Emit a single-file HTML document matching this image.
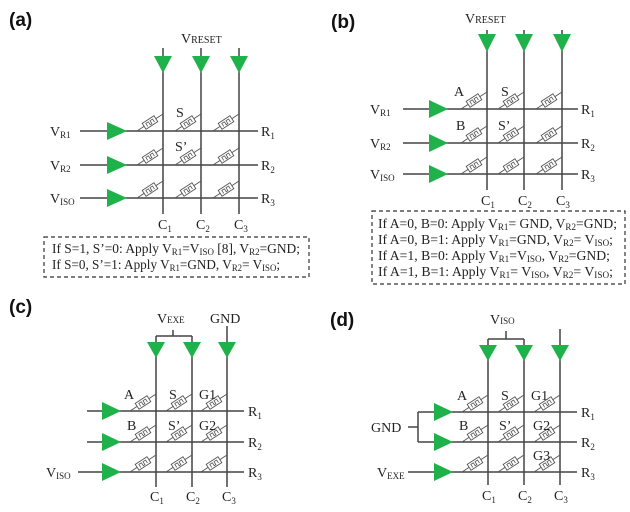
<!DOCTYPE html>
<html><head><meta charset="utf-8"><style>
html,body{margin:0;padding:0;background:#fff;}
svg{display:block;}
text{font-family:"Liberation Serif",serif;font-size:14px;fill:#222;}
.bx{font-size:13.5px;}
.lb{font-family:"Liberation Sans",sans-serif;font-weight:bold;font-size:19px;fill:#111;}
.w{stroke:#444;stroke-width:1.5;fill:none;}
.g{fill:#1fb24a;}
</style></head><body>
<svg width="630" height="512" viewBox="0 0 630 512" xmlns="http://www.w3.org/2000/svg">
<defs>
<g id="r">
<line x1="-26" y1="0" x2="0" y2="-17" stroke="#555" stroke-width="0.9"/>
<g transform="translate(-13,-8.5) rotate(-33)">
<rect x="-7" y="-3.5" width="14" height="7" fill="#fff" stroke="#555" stroke-width="0.9"/>
<path d="M-4,2 V-1.5 H-1 V2 H1 V-1.5 H4 V2" fill="none" stroke="#555" stroke-width="0.8"/>
</g>
</g>
</defs>

<!-- ===== (a) ===== -->
<text class="lb" x="9" y="26">(a)</text>
<text x="181" y="43">V<tspan font-size="10">RESET</tspan></text>
<g class="w">
<line x1="163" y1="48" x2="163" y2="214"/><line x1="201" y1="48" x2="201" y2="214"/><line x1="239" y1="48" x2="239" y2="214"/>
<line x1="80" y1="131" x2="258" y2="131"/><line x1="80" y1="165" x2="258" y2="165"/><line x1="80" y1="198" x2="258" y2="198"/>
</g>
<g class="g">
<polygon points="154,56 172,56 163,73"/><polygon points="192,56 210,56 201,73"/><polygon points="230,56 248,56 239,73"/>
<polygon points="107,122 107,140 127,131"/><polygon points="107,156 107,174 127,165"/><polygon points="107,189 107,207 127,198"/>
</g>
<use href="#r" x="163" y="131"/><use href="#r" x="201" y="131"/><use href="#r" x="239" y="131"/>
<use href="#r" x="163" y="165"/><use href="#r" x="201" y="165"/><use href="#r" x="239" y="165"/>
<use href="#r" x="163" y="198"/><use href="#r" x="201" y="198"/><use href="#r" x="239" y="198"/>
<text x="176" y="117">S</text><text x="175" y="151">S’</text>
<text x="50" y="136">V<tspan font-size="9" dy="2">R1</tspan></text>
<text x="50" y="170">V<tspan font-size="9" dy="2">R2</tspan></text>
<text x="50" y="203">V<tspan font-size="9" dy="2">ISO</tspan></text>
<text x="261" y="136">R<tspan font-size="9" dy="3">1</tspan></text>
<text x="261" y="170">R<tspan font-size="9" dy="3">2</tspan></text>
<text x="261" y="203">R<tspan font-size="9" dy="3">3</tspan></text>
<text x="158" y="229">C<tspan font-size="9" dy="3">1</tspan></text>
<text x="196" y="229">C<tspan font-size="9" dy="3">2</tspan></text>
<text x="234" y="229">C<tspan font-size="9" dy="3">3</tspan></text>
<rect x="44" y="237" width="265" height="40" fill="none" stroke="#333" stroke-width="1.2" stroke-dasharray="4,3"/>
<text class="bx" x="52" y="253" textLength="248" lengthAdjust="spacingAndGlyphs">If S=1, S’=0: Apply V<tspan font-size="9" dy="2">R1</tspan><tspan dy="-2">=V</tspan><tspan font-size="9" dy="2">ISO</tspan><tspan dy="-2"> [8], V</tspan><tspan font-size="9" dy="2">R2</tspan><tspan dy="-2">=GND;</tspan></text>
<text class="bx" x="52" y="269" textLength="228" lengthAdjust="spacingAndGlyphs">If S=0, S’=1: Apply V<tspan font-size="9" dy="2">R1</tspan><tspan dy="-2">=GND, V</tspan><tspan font-size="9" dy="2">R2</tspan><tspan dy="-2">= V</tspan><tspan font-size="9" dy="2">ISO</tspan><tspan dy="-2">;</tspan></text>

<!-- ===== (b) ===== -->
<text class="lb" x="331" y="28">(b)</text>
<text x="465" y="23">V<tspan font-size="10">RESET</tspan></text>
<g class="w">
<line x1="487" y1="30" x2="487" y2="190"/><line x1="524" y1="30" x2="524" y2="190"/><line x1="562" y1="30" x2="562" y2="190"/>
<line x1="403" y1="109" x2="578" y2="109"/><line x1="403" y1="143" x2="578" y2="143"/><line x1="403" y1="174" x2="578" y2="174"/>
</g>
<g class="g">
<polygon points="478,34 496,34 487,52"/><polygon points="515,34 533,34 524,52"/><polygon points="553,34 571,34 562,52"/>
<polygon points="429,100 429,118 448,109"/><polygon points="429,134 429,152 448,143"/><polygon points="429,165 429,183 448,174"/>
</g>
<use href="#r" x="487" y="109"/><use href="#r" x="524" y="109"/><use href="#r" x="562" y="109"/>
<use href="#r" x="487" y="143"/><use href="#r" x="524" y="143"/><use href="#r" x="562" y="143"/>
<use href="#r" x="487" y="174"/><use href="#r" x="524" y="174"/><use href="#r" x="562" y="174"/>
<text x="454" y="96">A</text><text x="501" y="96">S</text>
<text x="456" y="130">B</text><text x="498" y="130">S’</text>
<text x="370" y="114">V<tspan font-size="9" dy="2">R1</tspan></text>
<text x="370" y="148">V<tspan font-size="9" dy="2">R2</tspan></text>
<text x="370" y="179">V<tspan font-size="9" dy="2">ISO</tspan></text>
<text x="581" y="114">R<tspan font-size="9" dy="3">1</tspan></text>
<text x="581" y="148">R<tspan font-size="9" dy="3">2</tspan></text>
<text x="581" y="179">R<tspan font-size="9" dy="3">3</tspan></text>
<text x="481" y="205">C<tspan font-size="9" dy="3">1</tspan></text>
<text x="518" y="205">C<tspan font-size="9" dy="3">2</tspan></text>
<text x="556" y="205">C<tspan font-size="9" dy="3">3</tspan></text>
<rect x="372" y="211" width="253" height="73" fill="none" stroke="#333" stroke-width="1.2" stroke-dasharray="4,3"/>
<text class="bx" x="378" y="228" textLength="239" lengthAdjust="spacingAndGlyphs">If A=0, B=0: Apply V<tspan font-size="9" dy="2">R1</tspan><tspan dy="-2">= GND, V</tspan><tspan font-size="9" dy="2">R2</tspan><tspan dy="-2">=GND;</tspan></text>
<text class="bx" x="378" y="244" textLength="235" lengthAdjust="spacingAndGlyphs">If A=0, B=1: Apply V<tspan font-size="9" dy="2">R1</tspan><tspan dy="-2">=GND, V</tspan><tspan font-size="9" dy="2">R2</tspan><tspan dy="-2">= V</tspan><tspan font-size="9" dy="2">ISO</tspan><tspan dy="-2">;</tspan></text>
<text class="bx" x="378" y="260" textLength="232" lengthAdjust="spacingAndGlyphs">If A=1, B=0: Apply V<tspan font-size="9" dy="2">R1</tspan><tspan dy="-2">=V</tspan><tspan font-size="9" dy="2">ISO</tspan><tspan dy="-2">, V</tspan><tspan font-size="9" dy="2">R2</tspan><tspan dy="-2">=GND;</tspan></text>
<text class="bx" x="378" y="276" textLength="235" lengthAdjust="spacingAndGlyphs">If A=1, B=1: Apply V<tspan font-size="9" dy="2">R1</tspan><tspan dy="-2">= V</tspan><tspan font-size="9" dy="2">ISO</tspan><tspan dy="-2">, V</tspan><tspan font-size="9" dy="2">R2</tspan><tspan dy="-2">= V</tspan><tspan font-size="9" dy="2">ISO</tspan><tspan dy="-2">;</tspan></text>

<!-- ===== (c) ===== -->
<text class="lb" x="9" y="313">(c)</text>
<text x="157" y="323">V<tspan font-size="9">EXE</tspan></text>
<text x="210" y="323">GND</text>
<g class="w">
<line x1="173" y1="330" x2="173" y2="336"/><line x1="156" y1="336" x2="192" y2="336"/>
<line x1="156" y1="336" x2="156" y2="487"/><line x1="192" y1="336" x2="192" y2="487"/><line x1="227" y1="326" x2="227" y2="487"/>
<line x1="87" y1="411" x2="244" y2="411"/><line x1="87" y1="442" x2="244" y2="442"/><line x1="78" y1="472" x2="244" y2="472"/>
</g>
<g class="g">
<polygon points="147,342 165,342 156,358"/><polygon points="183,342 201,342 192,358"/><polygon points="218,342 236,342 227,358"/>
<polygon points="102,402 102,420 121,411"/><polygon points="102,433 102,451 121,442"/><polygon points="102,463 102,481 121,472"/>
</g>
<use href="#r" x="156" y="411"/><use href="#r" x="192" y="411"/><use href="#r" x="227" y="411"/>
<use href="#r" x="156" y="442"/><use href="#r" x="192" y="442"/><use href="#r" x="227" y="442"/>
<use href="#r" x="156" y="472"/><use href="#r" x="192" y="472"/><use href="#r" x="227" y="472"/>
<text x="124" y="399">A</text><text x="169" y="399">S</text><text x="199" y="399">G1</text>
<text x="127" y="430">B</text><text x="168" y="430">S’</text><text x="199" y="430">G2</text>
<text x="46" y="477">V<tspan font-size="9" dy="2">ISO</tspan></text>
<text x="248" y="416">R<tspan font-size="9" dy="3">1</tspan></text>
<text x="248" y="447">R<tspan font-size="9" dy="3">2</tspan></text>
<text x="248" y="477">R<tspan font-size="9" dy="3">3</tspan></text>
<text x="150" y="501">C<tspan font-size="9" dy="3">1</tspan></text>
<text x="186" y="501">C<tspan font-size="9" dy="3">2</tspan></text>
<text x="222" y="501">C<tspan font-size="9" dy="3">3</tspan></text>

<!-- ===== (d) ===== -->
<text class="lb" x="330" y="326">(d)</text>
<text x="490" y="324">V<tspan font-size="9">ISO</tspan></text>
<g class="w">
<line x1="506" y1="331" x2="506" y2="339"/><line x1="488" y1="339" x2="524" y2="339"/>
<line x1="488" y1="339" x2="488" y2="485"/><line x1="524" y1="339" x2="524" y2="485"/><line x1="560" y1="329" x2="560" y2="485"/>
<line x1="418" y1="412" x2="577" y2="412"/><line x1="418" y1="442" x2="577" y2="442"/><line x1="408" y1="472" x2="577" y2="472"/>
<line x1="418" y1="412" x2="418" y2="442"/><line x1="408" y1="427" x2="418" y2="427"/>
</g>
<g class="g">
<polygon points="479,345 497,345 488,361"/><polygon points="515,345 533,345 524,361"/><polygon points="551,345 569,345 560,361"/>
<polygon points="434,403 434,421 453,412"/><polygon points="434,433 434,451 453,442"/><polygon points="434,463 434,481 453,472"/>
</g>
<use href="#r" x="488" y="412"/><use href="#r" x="524" y="412"/><use href="#r" x="560" y="412"/>
<use href="#r" x="488" y="442"/><use href="#r" x="524" y="442"/><use href="#r" x="560" y="442"/>
<use href="#r" x="488" y="472"/><use href="#r" x="524" y="472"/><use href="#r" x="560" y="472"/>
<text x="457" y="400">A</text><text x="501" y="400">S</text><text x="531" y="400">G1</text>
<text x="459" y="430">B</text><text x="499" y="430">S’</text><text x="533" y="430">G2</text>
<text x="533" y="460">G3</text>
<text x="371" y="432">GND</text>
<text x="377" y="477">V<tspan font-size="9" dy="2">EXE</tspan></text>
<text x="581" y="417">R<tspan font-size="9" dy="3">1</tspan></text>
<text x="581" y="447">R<tspan font-size="9" dy="3">2</tspan></text>
<text x="581" y="477">R<tspan font-size="9" dy="3">3</tspan></text>
<text x="482" y="500">C<tspan font-size="9" dy="3">1</tspan></text>
<text x="518" y="500">C<tspan font-size="9" dy="3">2</tspan></text>
<text x="554" y="500">C<tspan font-size="9" dy="3">3</tspan></text>
</svg>
</body></html>
